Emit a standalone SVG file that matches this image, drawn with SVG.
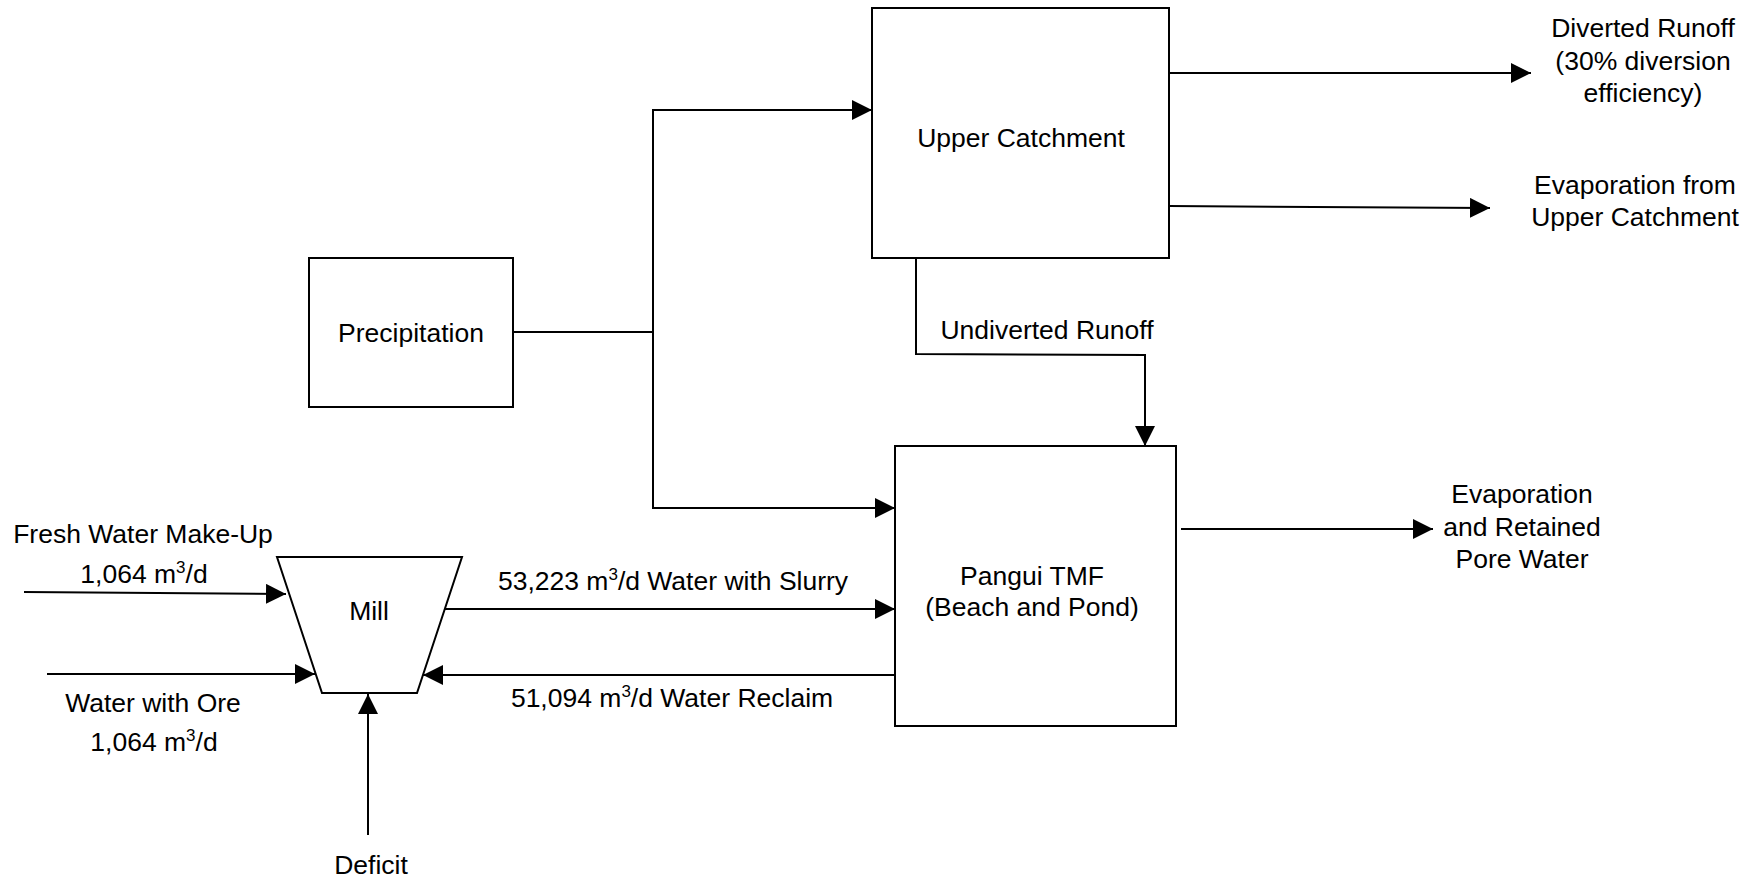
<svg xmlns="http://www.w3.org/2000/svg" width="1750" height="879" viewBox="0 0 1750 879">
<style>
text{font-family:"Liberation Sans",Arial,sans-serif;font-size:26.5px;fill:#000;text-anchor:middle}
.box{fill:#fff;stroke:#000;stroke-width:2}
.ln{fill:none;stroke:#000;stroke-width:2}
.arr{marker-end:url(#ah)}
.sup{font-size:17px}
</style>
<defs>
<marker id="ah" markerUnits="userSpaceOnUse" markerWidth="21" markerHeight="21" refX="20" refY="10" orient="auto">
<path d="M0,0 L20,10 L0,20 z" fill="#000"/>
</marker>
</defs>
<rect width="1750" height="879" fill="#fff"/>
<g id="connectors">
<path class="ln" d="M513,332 H653"/>
<path class="ln arr" d="M653,332 V110 H872"/>
<path class="ln arr" d="M653,332 V508 H895"/>
<path class="ln arr" d="M1169,73 H1531"/>
<path class="ln arr" d="M1169,206 L1490,208"/>
<path class="ln arr" d="M916,258 V354 L1145,355 V446"/>
<path class="ln arr" d="M1181,529 H1433"/>
<path class="ln arr" d="M24,592 L286,594"/>
<path class="ln arr" d="M47,674 H315"/>
<path class="ln arr" d="M445,609 H895"/>
<path class="ln arr" d="M900,675 H423"/>
<path class="ln arr" d="M368,835 V694"/>
<text x="1047" y="339">Undiverted Runoff</text>
<text x="673" y="590">53,223 m<tspan class="sup" dy="-10">3</tspan><tspan dy="10">/d Water with Slurry</tspan></text>
<text x="672" y="707">51,094 m<tspan class="sup" dy="-10">3</tspan><tspan dy="10">/d Water Reclaim</tspan></text>
<text x="143" y="543">Fresh Water Make-Up</text>
<text x="144" y="583">1,064 m<tspan class="sup" dy="-10">3</tspan><tspan dy="10">/d</tspan></text>
<text x="153" y="712">Water with Ore</text>
<text x="154" y="751">1,064 m<tspan class="sup" dy="-10">3</tspan><tspan dy="10">/d</tspan></text>
</g>
<g id="precipitation">
<rect class="box" x="309" y="258" width="204" height="149"/>
<text x="411" y="342">Precipitation</text>
</g>
<g id="upper-catchment">
<rect class="box" x="872" y="8" width="297" height="250"/>
<text x="1021" y="147">Upper Catchment</text>
</g>
<g id="pangui-tmf">
<rect class="box" x="895" y="446" width="281" height="280"/>
<text x="1032" y="585">Pangui TMF</text>
<text x="1032" y="616">(Beach and Pond)</text>
</g>
<g id="mill">
<path class="box" d="M277,557 H462 L417,693 H322 Z"/>
<text x="369" y="620">Mill</text>
</g>
<g id="diverted-runoff">
<text x="1643" y="37">Diverted Runoff</text>
<text x="1643" y="70">(30% diversion</text>
<text x="1643" y="102">efficiency)</text>
</g>
<g id="evaporation-upper">
<text x="1635" y="194">Evaporation from</text>
<text x="1635" y="226">Upper Catchment</text>
</g>
<g id="evaporation-tmf">
<text x="1522" y="503">Evaporation</text>
<text x="1522" y="536">and Retained</text>
<text x="1522" y="568">Pore Water</text>
</g>
<g id="deficit">
<text x="371" y="874">Deficit</text>
</g>
</svg>
